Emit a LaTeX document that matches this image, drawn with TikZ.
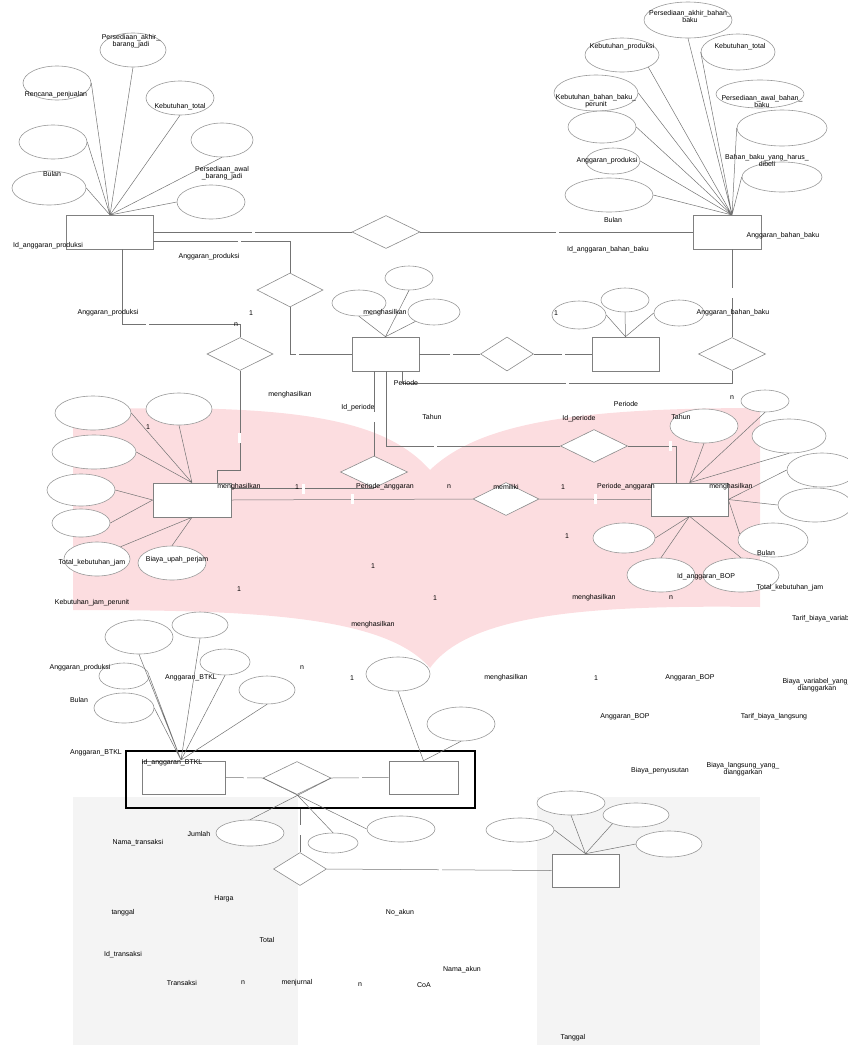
\documentclass[tikz,border=0pt]{standalone}
\usepackage{fontspec}
\setmainfont{Liberation Sans}
\usetikzlibrary{calc,shapes.geometric}
\definecolor{bookpink}{HTML}{FCDDE0}
\definecolor{pagegray}{HTML}{F4F4F4}
\tikzset{
	attr/.style={ellipse, draw=black!40, fill=white, line width=0.6pt, inner sep=0pt},
	ent/.style={rectangle, draw=black!50, fill=white, line width=0.6pt, inner sep=0pt},
	rel/.style={diamond, draw=black!45, fill=white, line width=0.6pt, inner sep=0pt},
	frame/.style={rectangle, draw=black, line width=1.2pt, inner sep=0pt},
	ln/.style={draw=black!55, line width=0.5pt},
	lbl/.style={font=\fontsize{7}{7}\selectfont, inner sep=0pt, align=center}
}
\def\erAttr(#1)(#2,#3)(#4:#5){\node[attr, minimum width=#4, minimum height=#5] (#1) at (#2,#3) {};}
\def\erEnt(#1)(#2,#3)(#4:#5){\node[ent, minimum width=#4, minimum height=#5] (#1) at (#2,#3) {};}
\def\erRel(#1)(#2,#3)(#4:#5){\node[rel, minimum width=#4, minimum height=#5] (#1) at (#2,#3) {};}
\def\erGap(#1,#2){\fill[white] (#1-1.5,#2-5) rectangle (#1+1.5,#2+5);}

\begin{document}
\begin{tikzpicture}[x=1pt,y=-1pt]
			%%%%% START %%%%%
			\useasboundingbox (0,0) rectangle (848,1045);
			
			\fill[bookpink] (73,410) .. controls (300,402) and (385,420) .. (430,470) .. controls (480,422) and (580,408) .. (760,408) -- (760,607) .. controls (600,605) and (470,612) .. (430,668) .. controls (385,615) and (250,610) .. (73,610) -- cycle;
			\fill[pagegray] (73,797) rectangle (298,1045);
			\fill[pagegray] (537,797) rectangle (760,1045);
			
			\erAttr(pabj)(133,50)(66:34)
			\erAttr(rpj)(57,83)(68:34)
			\erAttr(tlA)(53,142)(68:34)
			\erAttr(ktp)(180,98)(68:34)
			\erAttr(pawj)(222,140)(62:34)
			\erAttr(blnp)(49,188)(74:34)
			\erAttr(tlB)(211,202)(68:34)
			\erEnt(prod)(109.5,232)(87:34)
			
			\erAttr(pabb)(688,20)(88:36)
			\erAttr(kpr)(622,55)(74:34)
			\erAttr(ktb)(738,52)(74:36)
			\erAttr(kbbp)(596,93)(84:36)
			\erAttr(pawb)(760,94)(88:28)
			\erAttr(trA)(602,127)(68:32)
			\erAttr(trB)(782,128)(90:36)
			\erAttr(apb)(613,161)(54:26)
			\erAttr(trC)(782,177)(80:30)
			\erAttr(blnb)(609,195)(88:34)
			\erEnt(bb)(727,232)(68:34)
			
			\erRel(dA)(386,232)(68:33)
			\erRel(dB)(290,290)(66:34)
			\erEnt(per)(385.5,354)(67:34)
			\erAttr(pA)(359,303)(54:26)
			\erAttr(pB)(409,278)(48:24)
			\erAttr(pC)(434,312)(52:26)
			\erRel(dC)(507,354)(53:34)
			\erEnt(bbx)(625.5,354)(67:34)
			\erAttr(xA)(579,315)(54:28)
			\erAttr(xB)(625,300)(48:24)
			\erAttr(xC)(679,313)(50:26)
			\erRel(dD)(732,354)(67:33)
			\erRel(dE)(240,354)(66:33)
			\erRel(dF)(374,472)(67:32)
			\erRel(dG)(594,446)(67:33)
			\erRel(dH)(506,499)(66:33)
			
			\erEnt(btkl)(192,500)(78:34)
			\erAttr(kA)(93,413)(76:34)
			\erAttr(kB)(179,409)(66:32)
			\erAttr(kC)(94,452)(84:34)
			\erAttr(kD)(81,490)(68:32)
			\erAttr(kE)(81,523)(58:28)
			\erAttr(kF)(97,559)(66:34)
			\erAttr(kG)(172,563)(68:34)
			
			\erEnt(bop)(689.5,499.5)(77:33)
			\erAttr(oA)(765,401)(48:22)
			\erAttr(oB)(704,426)(68:34)
			\erAttr(oC)(789,436)(74:34)
			\erAttr(oD)(822,470)(70:34)
			\erAttr(oE)(815,505)(74:34)
			\erAttr(oF)(773,540)(70:34)
			\erAttr(oG)(624,538)(62:30)
			\erAttr(oH)(661,575)(68:34)
			\erAttr(oI)(741,575)(76:34)
			
			\node[frame, minimum width=349, minimum height=57] (agg) at (300.5,779.5) {};
			\erEnt(bt2)(183.5,777.5)(83:33)
			\erRel(dI)(297,778)(68:33)
			\erEnt(bo2)(423.5,777.5)(69:33)
			\erAttr(tA)(139,637)(68:34)
			\erAttr(tB)(200,625)(56:26)
			\erAttr(tC)(225,662)(50:26)
			\erAttr(tD)(124,676)(50:26)
			\erAttr(tE)(267,690)(56:28)
			\erAttr(tF)(124,708)(60:30)
			\erAttr(qA)(398,674)(64:34)
			\erAttr(qB)(461,724)(68:34)
			\erAttr(jA)(250,833)(68:26)
			\erAttr(jB)(333,843)(50:20)
			\erAttr(jC)(401,829)(68:26)
			\erRel(dJ)(300,869)(53:33)
			\erEnt(coa)(585.5,870.5)(67:33)
			\erAttr(cA)(520,830)(68:24)
			\erAttr(cB)(571,803)(68:24)
			\erAttr(cC)(636,815)(66:24)
			\erAttr(cD)(669,844)(66:26)
			
			\coordinate (hubP) at (110,215);
			\coordinate (hubB) at (732,215);
			\coordinate (hubT) at (181,760);
			
			\draw[ln] (hubP) -- (pabj.south) (hubP) -- (rpj.east) (hubP) -- (tlA.east) (hubP) -- (ktp.south) (hubP) -- (pawj.south) (hubP) -- (blnp.east) (hubP) -- (tlB.west);
			\draw[ln] (hubB) -- (pabb.south) (hubB) -- (kpr.south east) (hubB) -- (ktb.west) (hubB) -- (kbbp.east) (hubB) -- (trA.east) (hubB) -- (trB.west) (hubB) -- (apb.east) (hubB) -- (trC.west) (hubB) -- (blnb.east);
			\draw[ln] (per.north) -- (pA.south) (per.north) -- (pB.south) (per.north) -- (pC.south west);
			\draw[ln] (bbx.north) -- (xA.east) (bbx.north) -- (xB.south) (bbx.north) -- (xC.west);
			\draw[ln] (btkl.north) -- (kA.east) (btkl.north) -- (kB.south) (btkl.north) -- (kC.east) (btkl.west) -- (kD.east) (btkl.west) -- (kE.east) (btkl.south) -- (kF.north east) (btkl.south) -- (kG.north);
			\draw[ln] (bop.north) -- (oA.south) (bop.north) -- (oB.south) (bop.north) -- (oC.south) (bop.east) -- (oD.west) (bop.east) -- (oE.west) (bop.east) -- (oF.170) (bop.south) -- (oG.east) (bop.south) -- (oH.north) (bop.south) -- (oI.north);
			\draw[ln] (hubT) -- (tA.south) (hubT) -- (tB.south) (hubT) -- (tC.south) (hubT) -- (tD.east) (hubT) -- (tE.south) (hubT) -- (tF.east);
			\draw[ln] (bo2.north) -- (qA.south) (bo2.north) -- (qB.south);
			\draw[ln] (coa.north) -- (cA.east) (coa.north) -- (cB.south) (coa.north) -- (cC.south west) (coa.north) -- (cD.west);
			
			\draw[ln] (prod.east) -- (dA.west) (dA.east) -- (bb.west);
			\draw[ln] ($(prod.east)+(0,9)$) -| (dB.north);
			\draw[ln] (dB.south) |- (per.west);
			\draw[ln] (per.east) -- (dC.west) (dC.east) -- (bbx.west);
			\draw[ln] (dD.north) -- (dD.north |- bb.south);
			\draw[ln] (dD.south) -- ++(0,12) -| ($(per.south)+(16.5,0)$);
			\draw[ln] (dE.north) -- ++(0,-13) -| ($(prod.south)+(12.5,0)$);
			\draw[ln] (dE.south) -- ++(0,99) -| ($(btkl.north)+(25,0)$);
			\draw[ln] ($(per.south)+(-11.5,0)$) -- (dF.north);
			\draw[ln] ($(per.south)+(0.5,0)$) |- (dG.west);
			\draw[ln] (dG.east) -| ($(bop.north)+(-13.5,0)$);
			\draw[ln] (dF.south -| btkl.east) -- (dF.south);
			\draw[ln] (btkl.east) -- (dH.west) (dH.east) -- (bop.west);
			
			\draw[ln] (bt2.east) -- (dI.west) (dI.east) -- (bo2.west);
			\draw[ln] (dI.east) -- (jA.north) (dI.south) -- (jB.north) (dI.west) -- (jC.west);
			\draw[ln] (dJ.north) -- (dJ.north |- agg.south);
			\draw[ln] (dJ.east) -- (coa.west);
			
			\erGap(253,232) \erGap(557,232) \erGap(239,241) \erGap(297,354)
			\erGap(451,354) \erGap(563,354) \erGap(732,293) \erGap(567,383)
			\erGap(147,325) \erGap(239,438) \erGap(374,417) \erGap(435,446)
			\erGap(670,446) \erGap(303,489) \erGap(352,499) \erGap(595,499)
			\erGap(245,778) \erGap(360,778) \erGap(301,830) \erGap(440,869)
			
			\node[lbl] (lPabj) at (131,41) {Persediaan\_akhir\_\\barang\_jadi};
			\node[lbl] (lRpj) at (56,95) {Rencana\_penjualan};
			\node[lbl] (lKtp) at (180,107) {Kebutuhan\_total};
			\node[lbl] (lPawj) at (222,173) {Persediaan\_awal\\\_barang\_jadi};
			\node[lbl] (lBlnp) at (52,174) {Bulan};
			\node[lbl] (lIdp) at (48,246) {Id\_anggaran\_produksi};
			
			\node[lbl] (lPabb) at (690,16) {Persediaan\_akhir\_bahan\_\\baku};
			\node[lbl] (lKpr) at (622,47) {Kebutuhan\_produksi};
			\node[lbl] (lKtb) at (740,47) {Kebutuhan\_total};
			\node[lbl] (lKbbp) at (596,101) {Kebutuhan\_bahan\_baku\_\\perunit};
			\node[lbl] (lPawb) at (762,101) {Persediaan\_awal\_bahan\_\\baku};
			\node[lbl] (lApb) at (607,161) {Anggaran\_produksi};
			\node[lbl] (lBbh) at (767,160) {Bahan\_baku\_yang\_harus\_\\dibeli};
			\node[lbl] (lBlnb) at (613,220) {Bulan};
			\node[lbl] (lBb) at (783,236) {Anggaran\_bahan\_baku};
			\node[lbl] (lIdb) at (608,250) {Id\_anggaran\_bahan\_baku};
			
			\node[lbl] (lApA) at (209,257) {Anggaran\_produksi};
			\node[lbl] (lApB) at (108,313) {Anggaran\_produksi};
			\node[lbl] (lOneA) at (251,313) {1};
			\node[lbl] (lNA) at (236,325) {n};
			\node[lbl] (lMhA) at (385,313) {menghasilkan};
			\node[lbl] (lOneB) at (556,313) {1};
			\node[lbl] (lBbB) at (733,313) {Anggaran\_bahan\_baku};
			\node[lbl] (lPerA) at (406,383) {Periode};
			\node[lbl] (lMhB) at (290,395) {menghasilkan};
			\node[lbl] (lIdpA) at (358,408) {Id\_periode};
			\node[lbl] (lThA) at (432,417) {Tahun};
			\node[lbl] (lPerB) at (626,404) {Periode};
			\node[lbl] (lIdpB) at (579,419) {Id\_periode};
			\node[lbl] (lThB) at (681,417) {Tahun};
			\node[lbl] (lNB) at (732,398) {n};
			\node[lbl] (lOneC) at (148,427) {1};
			
			\node[lbl] (lMhC) at (239,487) {menghasilkan};
			\node[lbl] (lOneD) at (297,487) {1};
			\node[lbl] (lPaA) at (385,487) {Periode\_anggaran};
			\node[lbl] (lNC) at (449,487) {n};
			\node[lbl] (lMem) at (506,487) {memiliki};
			\node[lbl] (lOneE) at (563,487) {1};
			\node[lbl] (lPaB) at (626,487) {Periode\_anggaran};
			\node[lbl] (lMhD) at (731,487) {menghasilkan};
			\node[lbl] (lOneF) at (567,536) {1};
			\node[lbl] (lBlnO) at (766,553) {Bulan};
			\node[lbl] (lIdo) at (706,577) {Id\_anggaran\_BOP};
			\node[lbl] (lTkjA) at (790,588) {Total\_kebutuhan\_jam};
			\node[lbl] (lTkjB) at (92,563) {Total\_kebutuhan\_jam};
			\node[lbl] (lBup) at (177,560) {Biaya\_upah\_perjam};
			\node[lbl] (lOneG) at (373,566) {1};
			\node[lbl] (lOneH) at (239,589) {1};
			\node[lbl] (lKjp) at (92,603) {Kebutuhan\_jam\_perunit};
			\node[lbl] (lOneI) at (435,598) {1};
			\node[lbl] (lMhE) at (594,598) {menghasilkan};
			\node[lbl] (lND) at (671,598) {n};
			\node[lbl, anchor=west] (lTbv) at (792,619) {Tarif\_biaya\_variabel};
			\node[lbl] (lMhF) at (373,625) {menghasilkan};
			
			\node[lbl] (lNE) at (302,668) {n};
			\node[lbl] (lApC) at (80,668) {Anggaran\_produksi};
			\node[lbl] (lBtA) at (191,678) {Anggaran\_BTKL};
			\node[lbl] (lOneJ) at (352,678) {1};
			\node[lbl] (lMhG) at (506,678) {menghasilkan};
			\node[lbl] (lOneK) at (596,678) {1};
			\node[lbl] (lBopA) at (690,678) {Anggaran\_BOP};
			\node[lbl] (lBvd) at (817,685) {Biaya\_variabel\_yang\_\\dianggarkan};
			\node[lbl] (lBlnT) at (79,700) {Bulan};
			\node[lbl] (lBopB) at (625,717) {Anggaran\_BOP};
			\node[lbl] (lTbl) at (774,717) {Tarif\_biaya\_langsung};
			\node[lbl] (lBtB) at (96,753) {Anggaran\_BTKL};
			\node[lbl] (lIdt) at (172,763) {Id\_anggaran\_BTKL};
			\node[lbl, font=\fontsize{7}{6}\selectfont] (lBld) at (743,769) {Biaya\_langsung\_yang\_\\dianggarkan};
			\node[lbl] (lBpy) at (660,771) {Biaya\_penyusutan};
			
			\node[lbl] (lJml) at (199,834) {Jumlah};
			\node[lbl] (lNmt) at (138,843) {Nama\_transaksi};
			\node[lbl] (lHrg) at (224,899) {Harga};
			\node[lbl] (lTgl) at (123,913) {tanggal};
			\node[lbl] (lNoa) at (400,913) {No\_akun};
			\node[lbl] (lTot) at (267,940) {Total};
			\node[lbl] (lIdtr) at (123,955) {Id\_transaksi};
			\node[lbl] (lTrx) at (182,983) {Transaksi};
			\node[lbl] (lNF) at (243,983) {n};
			\node[lbl] (lJur) at (297,983) {menjurnal};
			\node[lbl] (lNG) at (360,985) {n};
			\node[lbl] (lCoa) at (424,985) {CoA};
			\node[lbl] (lNma) at (462,970) {Nama\_akun};
			\node[lbl] (lTglB) at (573,1038) {Tanggal};
			
			%%%%% END %%%%%
\end{tikzpicture}
\end{document}
